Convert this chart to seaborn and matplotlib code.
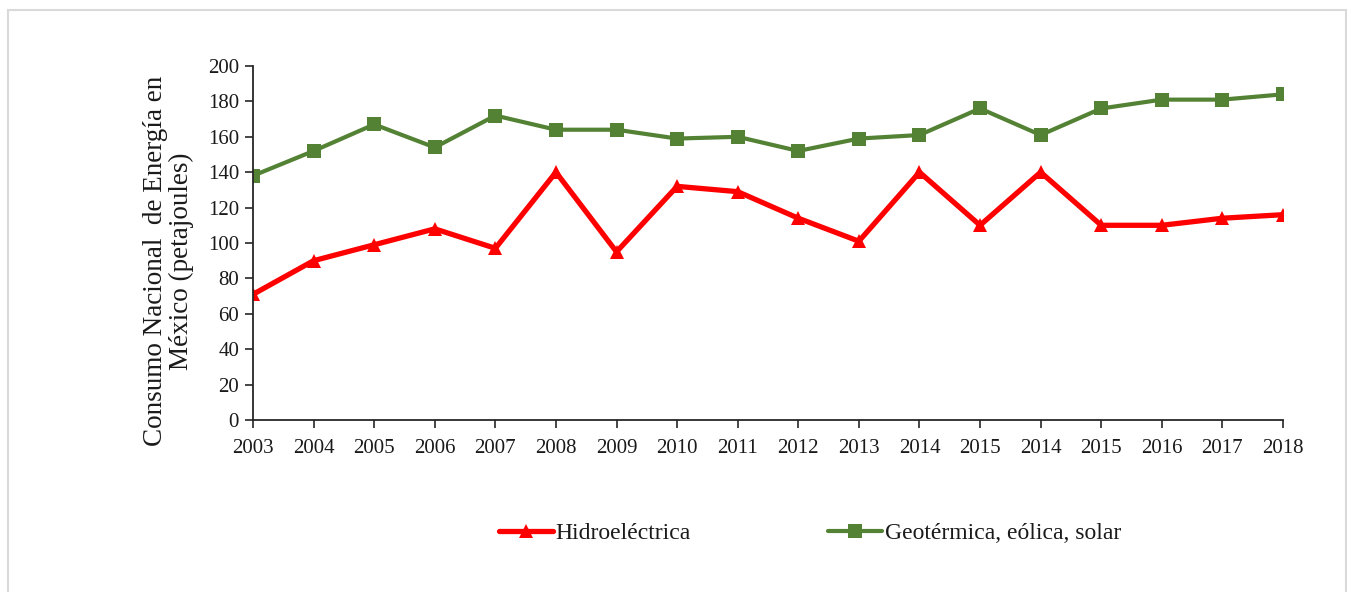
import matplotlib
matplotlib.use("Agg")
import matplotlib.pyplot as plt
import seaborn as sns
import pandas as pd
from matplotlib.patches import Rectangle

# Year labels as printed on the axis (some years appear twice)
years = ["2003", "2004", "2005", "2006", "2007", "2008", "2009", "2010", "2011",
         "2012", "2013", "2014", "2015", "2014", "2015", "2016", "2017", "2018"]

hidroelectrica = [71, 90, 99, 108, 97, 140, 95, 132, 129, 114, 101, 140, 110,
                  140, 110, 110, 114, 116]
geotermica = [138, 152, 167, 154, 172, 164, 164, 159, 160, 152, 159, 161, 176,
              161, 176, 181, 181, 184]

series_names = ["Hidroeléctrica", "Geotérmica, eólica, solar"]
series_colors = ["#FF0000", "#548235"]

sns.set_theme(style="white")
plt.rcParams["font.family"] = ["Liberation Serif", "DejaVu Serif"]

pos = list(range(len(years)))
df_h = pd.DataFrame({"pos": pos, "valor": hidroelectrica})
df_g = pd.DataFrame({"pos": pos, "valor": geotermica})

fig = plt.figure(figsize=(13.47, 5.92), dpi=100)
ax = fig.add_axes([253 / 1347, 1 - 420 / 592, (1283 - 253) / 1347, (420 - 66) / 592])

sns.lineplot(data=df_h, x="pos", y="valor", ax=ax, color=series_colors[0],
             linewidth=3.8, marker="^", markersize=10.5, markeredgewidth=0,
             label=series_names[0], sort=False)
sns.lineplot(data=df_g, x="pos", y="valor", ax=ax, color=series_colors[1],
             linewidth=3.0, marker="s", markersize=9.5, markeredgewidth=0,
             label=series_names[1], sort=False)

ax.set_xlim(0, len(years) - 1)
ax.set_ylim(0, 200)
ax.set_xticks(pos)
ax.set_xticklabels(years)
ax.set_yticks(range(0, 201, 20))
ax.set_xlabel("")
ax.set_ylabel("Consumo Nacional  de Energía en\nMéxico (petajoules)",
              fontsize=19.5, linespacing=1.05, labelpad=10, color="#1a1a1a")
ax.yaxis.label.set_y(0.449)

for side in ["top", "right"]:
    ax.spines[side].set_visible(False)
for side in ["left", "bottom"]:
    ax.spines[side].set_color("#262626")
    ax.spines[side].set_linewidth(1.3)

ax.tick_params(axis="both", which="major", direction="out", length=6, width=1.2,
               color="#262626", labelsize=15, labelcolor="#1a1a1a")
ax.tick_params(axis="x", pad=8, bottom=True)
ax.tick_params(axis="y", pad=4, left=True)
ax.grid(False)

leg = ax.legend(loc="center", bbox_to_anchor=(810 / 1347, 1 - 533 / 592),
                bbox_transform=fig.transFigure, ncol=2, frameon=False, fontsize=17,
                handlelength=2.3, handletextpad=0.1, columnspacing=5.8)
for txt in leg.get_texts():
    txt.set_color("#1a1a1a")

# light frame around the chart area
fig.patches.append(Rectangle((8 / 1347, -0.05), (1346 - 8) / 1347, 1.05 - 10 / 592,
                             transform=fig.transFigure, fill=False,
                             edgecolor="#D9D9D9", linewidth=1.5))

fig.savefig("out.png", dpi=100)
